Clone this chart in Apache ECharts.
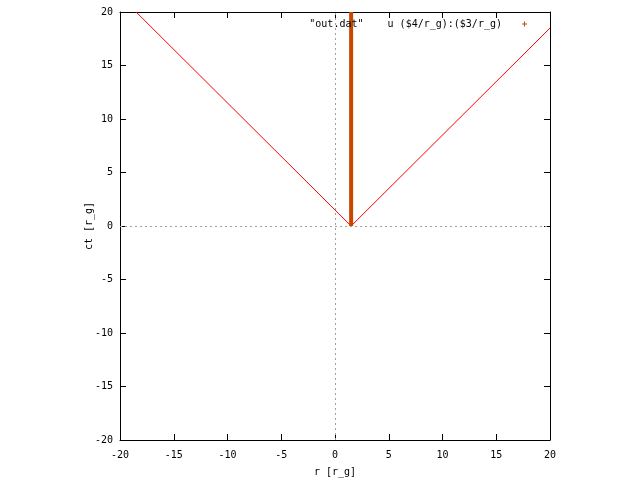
<!DOCTYPE html>
<html>
<head>
<meta charset="utf-8">
<script src="https://cdn.jsdelivr.net/npm/echarts@6/dist/echarts.min.js"></script>
<style>html,body{margin:0;padding:0;background:#fff}#c{width:640px;height:480px}</style>
</head>
<body>
<div id="c"></div>
<script>
var xTicks = [-20, -15, -10, -5, 0, 5, 10, 15, 20];
var yTicks = [-20, -15, -10, -5, 0, 5, 10, 15, 20];
var seriesName = '"out.dat"    u ($4/r_g):($3/r_g)';
var verticalLine = [[1.5, 0], [1.5, 20]];
var leftCone = [[-18.5, 20], [1.5, 0]];
var rightCone = [[1.5, 0], [20, 18.5]];
var xLabel = 'r [r_g]';
var yLabel = 'ct [r_g]';

var FONT = 'DejaVu Sans Mono';
var chart = echarts.init(document.getElementById('c'));
var axisCommon = {
  min: -20, max: 20, interval: 5,
  axisLine: {onZero: false, lineStyle: {color: '#000', width: 1}},
  axisTick: {inside: true, length: 6, lineStyle: {color: '#000'}},
  splitLine: {show: false}
};
chart.setOption({
  animation: false,
  textStyle: {fontFamily: FONT},
  grid: {left: 120, right: 90, top: 12, bottom: 40, outerBoundsMode: 'none', containLabel: false},
  legend: {
    data: [seriesName],
    right: 108, top: 14,
    align: 'right',
    itemWidth: 5, itemHeight: 5,
    icon: 'path://M2,0h1v2h2v1h-2v2h-1v-2h-2v-1h2z',
    formatter: function (n) { return n + '  '; },
    textStyle: {fontFamily: FONT, fontSize: 10, color: '#000', padding: [0, 3, 0, 0]}
  },
  xAxis: [
    Object.assign({type: 'value', position: 'bottom', name: xLabel, nameLocation: 'middle', nameGap: 27,
      nameTextStyle: {fontFamily: FONT, fontSize: 10, color: '#000'},
      axisLabel: {fontFamily: FONT, fontSize: 10, color: '#000', margin: 10}}, axisCommon),
    Object.assign({type: 'value', position: 'top', axisLabel: {show: false}}, axisCommon)
  ],
  yAxis: [
    Object.assign({type: 'value', position: 'left', name: yLabel, nameLocation: 'middle', nameGap: 26,
      nameRotate: 90, nameMoveOverlap: false,
      nameTextStyle: {fontFamily: FONT, fontSize: 10, color: '#000'},
      axisLabel: {fontFamily: FONT, fontSize: 10, color: '#000', margin: 7}}, axisCommon),
    Object.assign({type: 'value', position: 'right', axisLabel: {show: false}}, axisCommon)
  ],
  series: [
    {
      name: seriesName, type: 'line', data: verticalLine, symbol: 'none',
      lineStyle: {color: '#c84800', width: 4}, itemStyle: {color: '#c84800'},
      z: 3,
      markLine: {
        silent: true, symbol: 'none', label: {show: false},
        lineStyle: {color: '#a0a0a0', type: [2, 3], width: 1},
        data: [{xAxis: 0}, {yAxis: 0}]
      }
    },
    {
      name: 'left', type: 'line', data: leftCone, symbol: 'none',
      lineStyle: {color: '#ff0000', width: 1}, z: 2
    },
    {
      name: 'right', type: 'line', data: rightCone, symbol: 'none',
      lineStyle: {color: '#ff0000', width: 1}, z: 2
    }
  ]
});
</script>
</body>
</html>
